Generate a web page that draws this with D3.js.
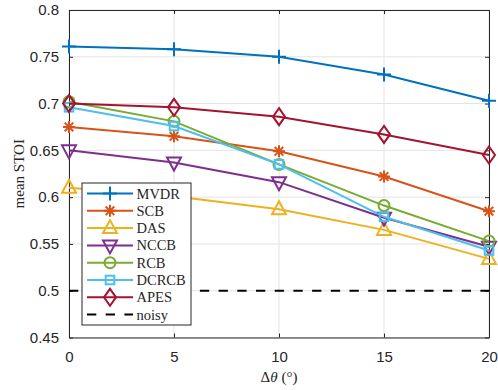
<!DOCTYPE html>
<html>
<head>
<meta charset="utf-8">
<script src="https://cdn.jsdelivr.net/npm/d3@7"></script>
<style>
  body { margin: 0; background: #fff; }
  svg { display: block; }
</style>
</head>
<body>
<svg id="chart" width="498" height="390"></svg>
<script>
// data
const angles = [0, 5, 10, 15, 20];
const mvdr  = [0.761, 0.758, 0.750, 0.731, 0.703];
const scb   = [0.675, 0.665, 0.649, 0.622, 0.585];
const das   = [0.610, 0.601, 0.587, 0.565, 0.534];
const nccb  = [0.650, 0.637, 0.616, 0.578, 0.547];
const rcb   = [0.702, 0.681, 0.635, 0.591, 0.553];
const dcrcb = [0.696, 0.676, 0.635, 0.579, 0.543];
const apes  = [0.700, 0.696, 0.686, 0.667, 0.645];
const noisy = [0.5, 0.5, 0.5, 0.5, 0.5];
const xTicks = [0, 5, 10, 15, 20];
const yTicks = [0.45, 0.5, 0.55, 0.6, 0.65, 0.7, 0.75, 0.8];

const series = [
  { name: "MVDR",  values: mvdr,  color: "#0072BD", marker: "plus" },
  { name: "SCB",   values: scb,   color: "#D95319", marker: "star" },
  { name: "DAS",   values: das,   color: "#EDB120", marker: "triUp" },
  { name: "NCCB",  values: nccb,  color: "#7E2F8E", marker: "triDown" },
  { name: "RCB",   values: rcb,   color: "#77AC30", marker: "circle" },
  { name: "DCRCB", values: dcrcb, color: "#4DBEEE", marker: "square" },
  { name: "APES",  values: apes,  color: "#A2142F", marker: "diamond" },
  { name: "noisy", values: noisy, color: "#000000", marker: null, dash: "9.3 9.4" }
];

const svg = d3.select("#chart");
const margin = { left: 69, right: 9, top: 10, bottom: 52.5 };
const W = 498, H = 390;
const axisColor = "#262626";

const x = d3.scaleLinear().domain([0, 20]).range([margin.left, W - margin.right]);
const y = d3.scaleLinear().domain([0.45, 0.8]).range([H - margin.bottom, margin.top]);

// grid
const grid = svg.append("g").attr("stroke", "#e3e3e3").attr("stroke-width", 1);
xTicks.forEach(t => {
  grid.append("line").attr("x1", x(t)).attr("x2", x(t)).attr("y1", y(0.45)).attr("y2", y(0.8));
});
yTicks.forEach(t => {
  grid.append("line").attr("x1", x(0)).attr("x2", x(20)).attr("y1", y(t)).attr("y2", y(t));
});

// axes (inward ticks, box on)
const tickFont = "'Liberation Sans', Arial, sans-serif";
const axB = svg.append("g").attr("transform", `translate(0,${y(0.45)})`)
  .call(d3.axisBottom(x).tickValues(xTicks).tickSizeInner(-4).tickSizeOuter(0).tickPadding(14)
    .tickFormat(d3.format("d")));
const axL = svg.append("g").attr("transform", `translate(${x(0)},0)`)
  .call(d3.axisLeft(y).tickValues(yTicks).tickSizeInner(-4).tickSizeOuter(0).tickPadding(10)
    .tickFormat(d => d3.format("")(+d.toFixed(2))));
const axT = svg.append("g").attr("transform", `translate(0,${y(0.8)})`)
  .call(d3.axisTop(x).tickValues(xTicks).tickSizeInner(-4).tickSizeOuter(0).tickFormat(""));
const axR = svg.append("g").attr("transform", `translate(${x(20)},0)`)
  .call(d3.axisRight(y).tickValues(yTicks).tickSizeInner(-4).tickSizeOuter(0).tickFormat(""));
[axB, axL, axT, axR].forEach(g => {
  g.selectAll("path").attr("stroke", axisColor).attr("stroke-width", 1);
  g.selectAll("line").attr("stroke", axisColor);
  g.selectAll("text").attr("fill", axisColor).style("font-family", tickFont).style("font-size", "15px");
});
axB.selectAll("text").attr("dy", "0.71em");

// markers
function drawMarker(g, type, cx, cy, color) {
  const m = g.append("g").attr("transform", `translate(${cx},${cy})`)
    .attr("fill", "none").attr("stroke", color).attr("stroke-width", 2);
  if (type === "plus") {
    m.append("path").attr("d", "M-7,0H7M0,-7V7");
  } else if (type === "star") {
    m.append("path").attr("d", "M-6,0H6M0,-6V6M-4.3,-4.3L4.3,4.3M-4.3,4.3L4.3,-4.3");
  } else if (type === "triUp") {
    m.append("path").attr("d", "M0,-8L7,5L-7,5Z");
  } else if (type === "triDown") {
    m.append("path").attr("d", "M0,8L7,-5L-7,-5Z");
  } else if (type === "circle") {
    m.append("circle").attr("r", 5.5);
  } else if (type === "square") {
    m.append("rect").attr("x", -4.3).attr("y", -4.3).attr("width", 8.6).attr("height", 8.6);
  } else if (type === "diamond") {
    m.append("path").attr("d", "M0,-8.5L6,0L0,8.5L-6,0Z");
  }
}

const line = d3.line().x((d, i) => x(angles[i])).y(d => y(d));
const plot = svg.append("g");
series.forEach(s => {
  plot.append("path").datum(s.values).attr("d", line)
    .attr("fill", "none").attr("stroke", s.color).attr("stroke-width", 2)
    .attr("stroke-dasharray", s.dash || null);
  if (s.marker) {
    s.values.forEach((v, i) => drawMarker(plot, s.marker, x(angles[i]), y(v), s.color));
  }
});

// legend
const serif = "'Liberation Serif', 'Times New Roman', serif";
const lg = svg.append("g").attr("transform", "translate(82,183)");
lg.append("rect").attr("width", 109).attr("height", 142)
  .attr("fill", "#fff").attr("stroke", axisColor).attr("stroke-width", 1);
series.forEach((s, i) => {
  const yy = 10.5 + i * 17.3;
  lg.append("line").attr("x1", 5).attr("x2", 51).attr("y1", yy).attr("y2", yy)
    .attr("stroke", s.color).attr("stroke-width", 2).attr("stroke-dasharray", s.dash || null);
  if (s.marker) drawMarker(lg, s.marker, 28, yy, s.color);
  lg.append("text").attr("x", 54.5).attr("y", yy + 5)
    .style("font-family", serif).style("font-size", "14.5px").attr("fill", axisColor)
    .text(s.name);
});

// axis labels
const xl = svg.append("text").attr("x", x(10)).attr("y", 382).attr("text-anchor", "middle")
  .style("font-family", serif).style("font-size", "15px").attr("fill", axisColor);
xl.append("tspan").text("Δ");
xl.append("tspan").style("font-style", "italic").text("θ");
xl.append("tspan").text(" (°)");

svg.append("text").attr("transform", `translate(24,${(y(0.45) + y(0.8)) / 2}) rotate(-90)`)
  .attr("text-anchor", "middle")
  .style("font-family", serif).style("font-size", "15px").attr("fill", axisColor)
  .text("mean STOI");
</script>
</body>
</html>
